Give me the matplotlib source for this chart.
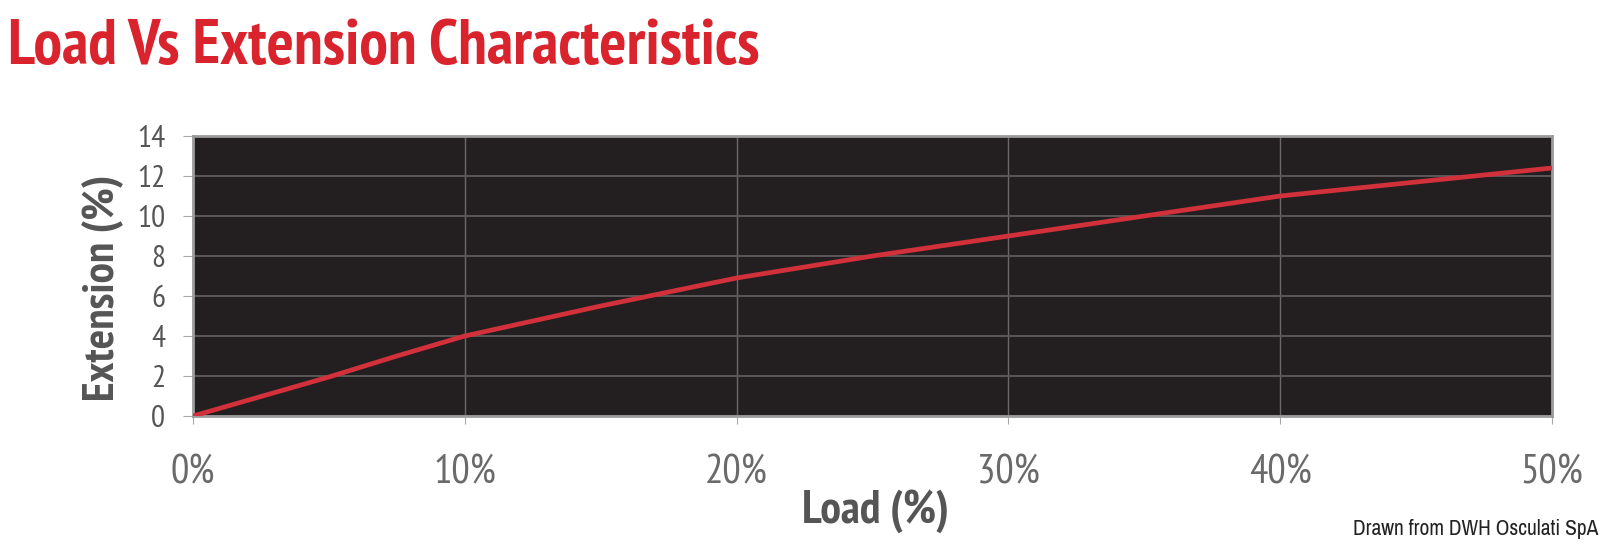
import matplotlib
matplotlib.use("Agg")
import matplotlib.pyplot as plt
from matplotlib import font_manager

# load (%) vs extension (%)
load = [0, 5, 7.5, 10, 15, 20, 25, 30, 35, 40, 45, 50]
extension = [0, 1.95, 3.0, 4.0, 5.5, 6.9, 8.0, 9.0, 10.0, 11.0, 11.7, 12.4]
xticks = [0, 10, 20, 30, 40, 50]
xticklabels = ["0%", "10%", "20%", "30%", "40%", "50%"]
yticks = [0, 2, 4, 6, 8, 10, 12, 14]

# pick a narrow font, the original text is squeezed sideways
avail = {f.name for f in font_manager.fontManager.ttflist}
def pick(cands):
    for c in cands:
        if c in avail:
            return c
    return "DejaVu Sans"
main_font = pick(["PT Sans Narrow", "Open Sans Condensed", "Roboto Condensed",
                  "Asap Condensed", "Barlow Semi Condensed", "Archivo Narrow"])
foot_font = pick(["Archivo Narrow", "Roboto Condensed", "PT Sans Narrow", main_font])
plt.rcParams['font.family'] = [main_font, 'DejaVu Sans']

W, H = 1600, 546
fig = plt.figure(figsize=(16, 5.46), dpi=100)
L, R, T, B = 193, 1552, 136, 416
ax = fig.add_axes([L/W, 1-B/H, (R-L)/W, (B-T)/H])

ax.set_facecolor('#231f20')
ax.plot(load, extension, color='#d2303a', lw=3.4, solid_capstyle='round', zorder=3)

ax.set_xlim(0, 50)
ax.set_ylim(0, 14)
ax.set_xticks(xticks)
ax.set_xticklabels(xticklabels)
ax.set_yticks(yticks)

ax.grid(axis='y', color='#5e5b5c', lw=1.3)
ax.grid(axis='x', color='#6a6868', lw=1.0)
ax.set_axisbelow(True)

for s in ax.spines.values():
    s.set_color('#9b9b9b')
    s.set_linewidth(2)

ax.tick_params(axis='x', length=6, color='#aaaaaa', labelsize=30, labelcolor='#6a6a6a', pad=22)
ax.tick_params(axis='y', length=7, color='#aaaaaa', labelsize=20, labelcolor='#555555', pad=13)

xl = ax.set_xlabel('Load (%)', fontsize=26, fontweight='bold', color='#555555')
xl.set_va('baseline')
ax.xaxis.set_label_coords((876-L)/(R-L), (B-523)/(B-T))
yl = ax.set_ylabel('Extension (%)', fontsize=28, fontweight='bold', color='#555555')
yl.set_va('center')
ax.yaxis.set_label_coords((103-L)/(R-L), (B-288)/(B-T))

title = fig.text(8/W, 1-64/H, 'Load Vs Extension Characteristics', fontsize=36,
                 fontweight='bold', color='#d9232d', ha='left', va='baseline')
foot = fig.text(1598/W, 1-535/H, 'Drawn from DWH Osculati SpA', fontsize=14,
                color='#222222', ha='right', va='baseline', family=[foot_font, 'DejaVu Sans'])

# scale font sizes so the widths match the original
fig.canvas.draw()
rend = fig.canvas.get_renderer()
def fit(t, target, use_height=False):
    bb = t.get_window_extent(rend)
    size = bb.height if use_height else bb.width
    t.set_fontsize(t.get_fontsize() * target / size)

fit(title, 752)
fit(foot, 245)
fit(xl, 147)
fit(yl, 227, use_height=True)
xsz = ax.get_xticklabels()[-1].get_window_extent(rend).width
ax.tick_params(axis='x', labelsize=30 * 63 / xsz)
ysz = ax.get_yticklabels()[-1].get_window_extent(rend).width
ax.tick_params(axis='y', labelsize=20 * 28 / ysz)

fig.savefig('out.png', dpi=100, facecolor='white')
